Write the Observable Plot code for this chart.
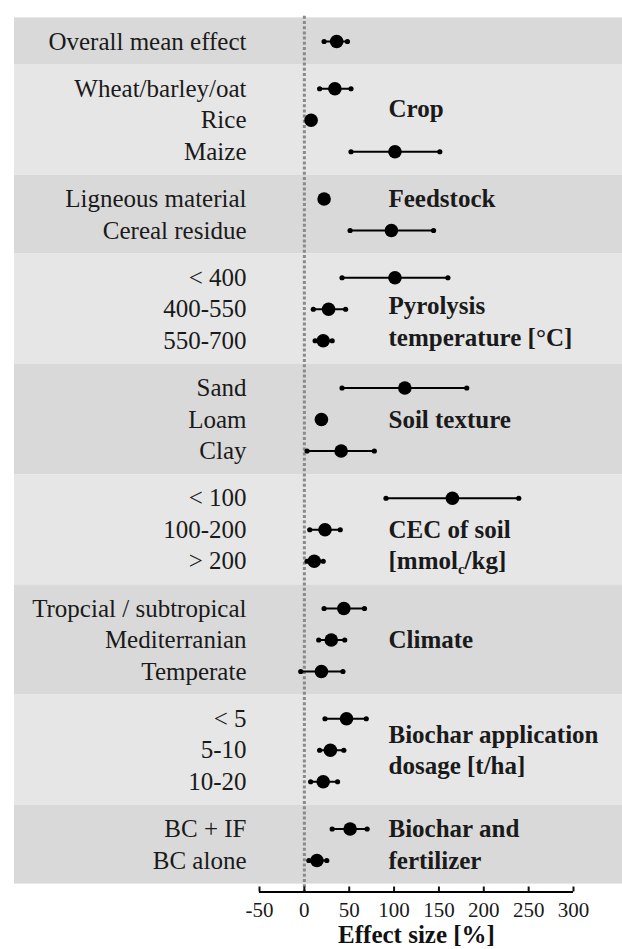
<!DOCTYPE html>
<html><head><meta charset="utf-8">
<script src="https://cdn.jsdelivr.net/npm/d3@7"></script>
<script src="https://cdn.jsdelivr.net/npm/@observablehq/plot@0.6"></script>
<style>body{margin:0;background:#fff} svg{display:block}</style>
</head><body><div id="chart"></div>
<script>
// ---- data ----
const groups = ["Overall", "Crop", "Feedstock", "Pyrolysis", "Soil texture", "CEC", "Climate", "Dosage", "Fertilizer"];
const categories = ["Overall mean effect",
  "Wheat/barley/oat", "Rice", "Maize",
  "Ligneous material", "Cereal residue",
  "< 400", "400-550", "550-700",
  "Sand", "Loam", "Clay",
  "< 100", "100-200", "> 200",
  "Tropcial / subtropical", "Mediterranian", "Temperate",
  "< 5", "5-10", "10-20",
  "BC + IF", "BC alone"];
const categoryGroup = [0, 1,1,1, 2,2, 3,3,3, 4,4,4, 5,5,5, 6,6,6, 7,7,7, 8,8];
const means = [36, 34, 7.5, 101, 22, 97, 101, 27, 21, 112, 19, 41, 165, 23, 11, 44, 30, 19, 47, 29, 21, 51, 14];
const lower = [22, 17, 4, 52, 19, 51, 42, 10, 12, 42, 16, 3, 91, 6, 3, 22, 16, -4, 23, 17, 7, 31, 5];
const upper = [48, 52, 11, 151, 25, 144, 160, 46, 31, 181, 22, 78, 239, 40, 21, 67, 45, 43, 69, 44, 37, 70, 25];
const groupTitles = [[], ["Crop"], ["Feedstock"], ["Pyrolysis", "temperature [°C]"], ["Soil texture"],
  ["CEC of soil", "[mmolc/kg]"], ["Climate"], ["Biochar application", "dosage [t/ha]"], ["Biochar and", "fertilizer"]];
const xTicks = [-50, 0, 50, 100, 150, 200, 250, 300];
const xTitle = "Effect size [%]";

// ---- layout (row units) ----
const groupGap = 0.5;
const titleOffsets = [0, 0.65, 0, 0.9, 1, 1, 1, 0.5, 0];
const rows = [];
let pos = 0;
categories.forEach((c, i) => {
  if (i > 0) pos += 1 + (categoryGroup[i] !== categoryGroup[i - 1] ? groupGap : 0);
  rows.push({label: c, group: categoryGroup[i], pos, mean: means[i], lo: lower[i], hi: upper[i]});
});
const bands = groups.map((g, gi) => {
  const r = rows.filter(d => d.group === gi);
  return {y1: r[0].pos - 0.75, y2: r[r.length - 1].pos + 0.75, fill: gi % 2 === 0 ? "#d9d9d9" : "#e6e6e6"};
});
const titleLines = [];
groupTitles.forEach((lines, gi) => {
  const first = rows.find(d => d.group === gi).pos;
  lines.forEach((t, k) => titleLines.push({text: t, pos: first + titleOffsets[gi] + k}));
});

const W = 622, H = 949, ML = 259, MR = 49, MT = 15.8, MB = 57.5;
const yDomain = [-0.8, 27];
const font = "'Liberation Serif', 'Times New Roman', serif";

const chart = Plot.plot({
  width: W, height: H,
  marginLeft: ML, marginRight: MR, marginTop: MT, marginBottom: MB,
  style: {fontFamily: font, background: "#fff", color: "#111"},
  x: {domain: [xTicks[0], xTicks[xTicks.length - 1]], axis: null},
  y: {domain: yDomain, reverse: true, axis: null},
  marks: [
    Plot.rect(bands, {y1: "y1", y2: "y2", fill: "fill", insetLeft: -(ML - 14), insetRight: -MR}),
    Plot.ruleX([0], {stroke: "#8a8a8a", strokeWidth: 3, strokeDasharray: "3,2.2"}),
    Plot.link(rows, {x1: "lo", x2: "hi", y1: "pos", y2: "pos", stroke: "#000", strokeWidth: 2}),
    Plot.dot(rows, {x: "lo", y: "pos", r: 2.6, fill: "#000"}),
    Plot.dot(rows, {x: "hi", y: "pos", r: 2.6, fill: "#000"}),
    Plot.dot(rows, {x: "mean", y: "pos", r: 6.8, fill: "#000"}),
    Plot.text(rows, {y: "pos", text: "label", frameAnchor: "left", textAnchor: "end", dx: -13,
      fontSize: 25, fill: "#1a1a1a"}),
    Plot.text(titleLines, {y: "pos", text: "text", frameAnchor: "left", textAnchor: "start", dx: 129,
      fontSize: 25, fontWeight: "bold", fill: "#1a1a1a"}),
    Plot.ruleY([yDomain[1]], {stroke: "#000", strokeWidth: 2}),
    Plot.axisX({ticks: xTicks, tickSize: -5, tickPadding: 15, strokeWidth: 2, fontSize: 21,
      tickFormat: d => String(d), label: null, fill: "#1a1a1a"}),
    Plot.text([xTitle], {frameAnchor: "bottom", lineAnchor: "middle", dy: 43, fontSize: 25,
      fontWeight: "bold", fill: "#111"})
  ]
});
document.getElementById("chart").append(chart);

// subscript c in [mmol_c/kg]
d3.select(chart).selectAll("text").filter(function () { return this.textContent === "[mmolc/kg]"; })
  .each(function () {
    const t = d3.select(this);
    t.text("");
    t.append("tspan").text("[mmol");
    t.append("tspan").attr("font-size", 15).attr("dy", 5).text("c");
    t.append("tspan").attr("dy", -5).text("/kg]");
  });
</script>
</body></html>
